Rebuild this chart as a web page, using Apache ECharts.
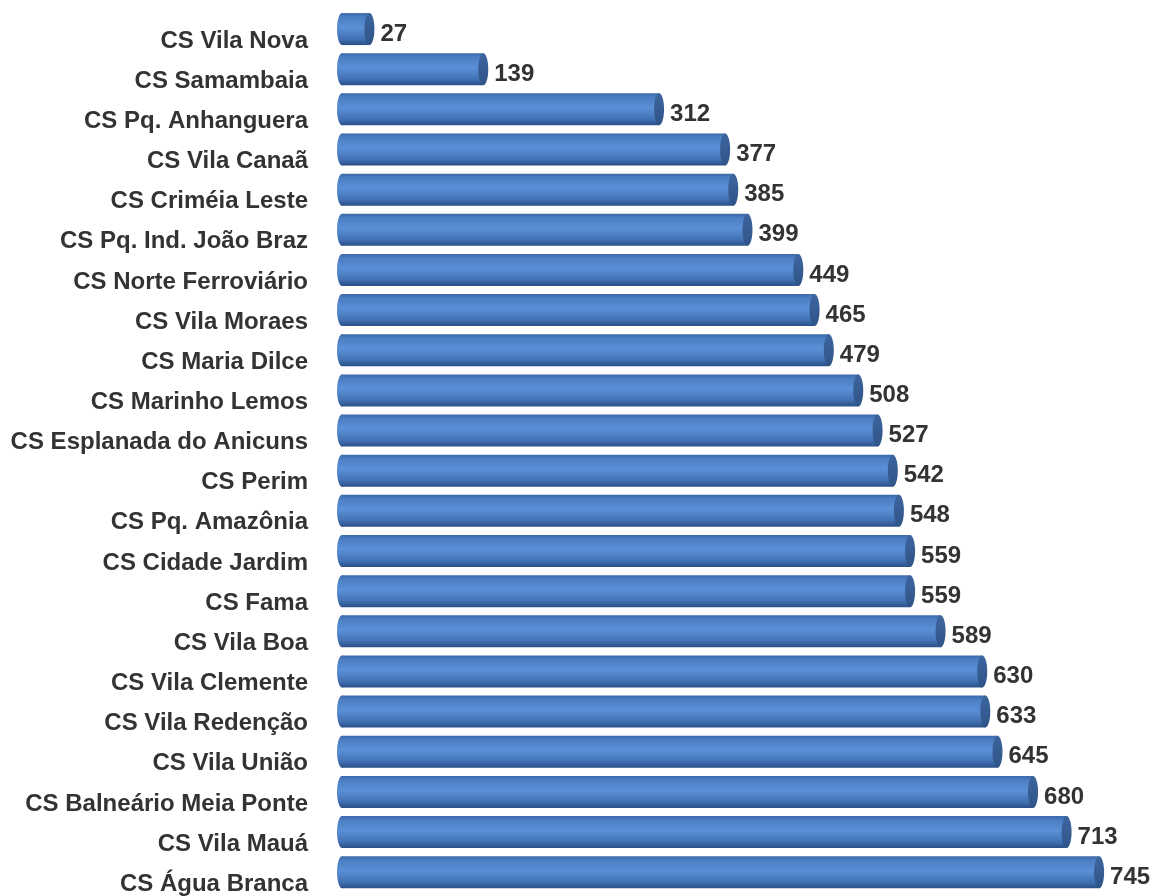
<!DOCTYPE html>
<html>
<head>
<meta charset="utf-8">
<script src="https://cdn.jsdelivr.net/npm/echarts@6/dist/echarts.min.js"></script>
<style>
  html, body { margin: 0; padding: 0; background: #fff; }
  #container { width: 1155px; height: 896px; }
</style>
</head>
<body>
<div id="container"></div>
<script>
// categorias (de cima para baixo)
var categorias = ['CS Vila Nova', 'CS Samambaia', 'CS Pq. Anhanguera', 'CS Vila Canaã', 'CS Criméia Leste',
    'CS Pq. Ind. João Braz', 'CS Norte Ferroviário', 'CS Vila Moraes', 'CS Maria Dilce', 'CS Marinho Lemos',
    'CS Esplanada do Anicuns', 'CS Perim', 'CS Pq. Amazônia', 'CS Cidade Jardim', 'CS Fama', 'CS Vila Boa',
    'CS Vila Clemente', 'CS Vila Redenção', 'CS Vila União', 'CS Balneário Meia Ponte', 'CS Vila Mauá', 'CS Água Branca'];
var valores = [27, 139, 312, 377, 385, 399, 449, 465, 479, 508, 527, 542, 548, 559, 559, 589, 630, 633, 645, 680, 713, 745];

var myChart = echarts.init(document.getElementById('container'));

var corpo = new echarts.graphic.LinearGradient(0, 0, 0, 1, [
    {offset: 0, color: '#3c68a8'},
    {offset: 0.12, color: '#4b7dc2'},
    {offset: 0.45, color: '#5b90d6'},
    {offset: 0.8, color: '#4272b4'},
    {offset: 1, color: '#2a4f88'}
]);
var tampa = new echarts.graphic.LinearGradient(0, 0, 0, 1, [
    {offset: 0, color: '#3d659e'},
    {offset: 1, color: '#2f5488'}
]);

function desenhaCilindro(params, api) {
    var ini = api.coord([0, api.value(1)]);
    var fim = api.coord([api.value(0), api.value(1)]);
    var h = 32;
    var rx = 5;
    var y = ini[1] - h / 2;
    return {
        type: 'group',
        children: [
            {type: 'ellipse', shape: {cx: ini[0], cy: ini[1], rx: rx, ry: h / 2}, style: {fill: corpo}},
            {type: 'rect', shape: {x: ini[0], y: y, width: fim[0] - ini[0], height: h}, style: {fill: corpo}},
            {type: 'ellipse', shape: {cx: fim[0], cy: fim[1], rx: rx, ry: h / 2}, style: {fill: tampa}},
            {
                type: 'text',
                style: {
                    x: fim[0] + rx + 6, y: fim[1] + 5,
                    text: String(api.value(0)),
                    fill: '#333333',
                    font: 'bold 24px "Liberation Sans", Arial, sans-serif',
                    verticalAlign: 'middle', align: 'left'
                }
            }
        ]
    };
}

var option = {
    animation: false,
    grid: {left: 342, top: 9, right: 0, bottom: -4, containLabel: false},
    xAxis: {
        type: 'value', min: 0, max: 800, show: false
    },
    yAxis: {
        type: 'category',
        inverse: true,
        data: categorias,
        axisLine: {show: false},
        axisTick: {show: false},
        axisLabel: {
            margin: 34,
            color: '#333333',
            fontWeight: 'bold',
            fontSize: 24,
            fontFamily: '"Liberation Sans", Arial, sans-serif',
            verticalAlign: 'top'
        }
    },
    series: [{
        type: 'custom',
        renderItem: desenhaCilindro,
        encode: {x: 0, y: 1},
        data: valores.map(function (v, i) { return [v, i]; })
    }]
};
myChart.setOption(option);
</script>
</body>
</html>
